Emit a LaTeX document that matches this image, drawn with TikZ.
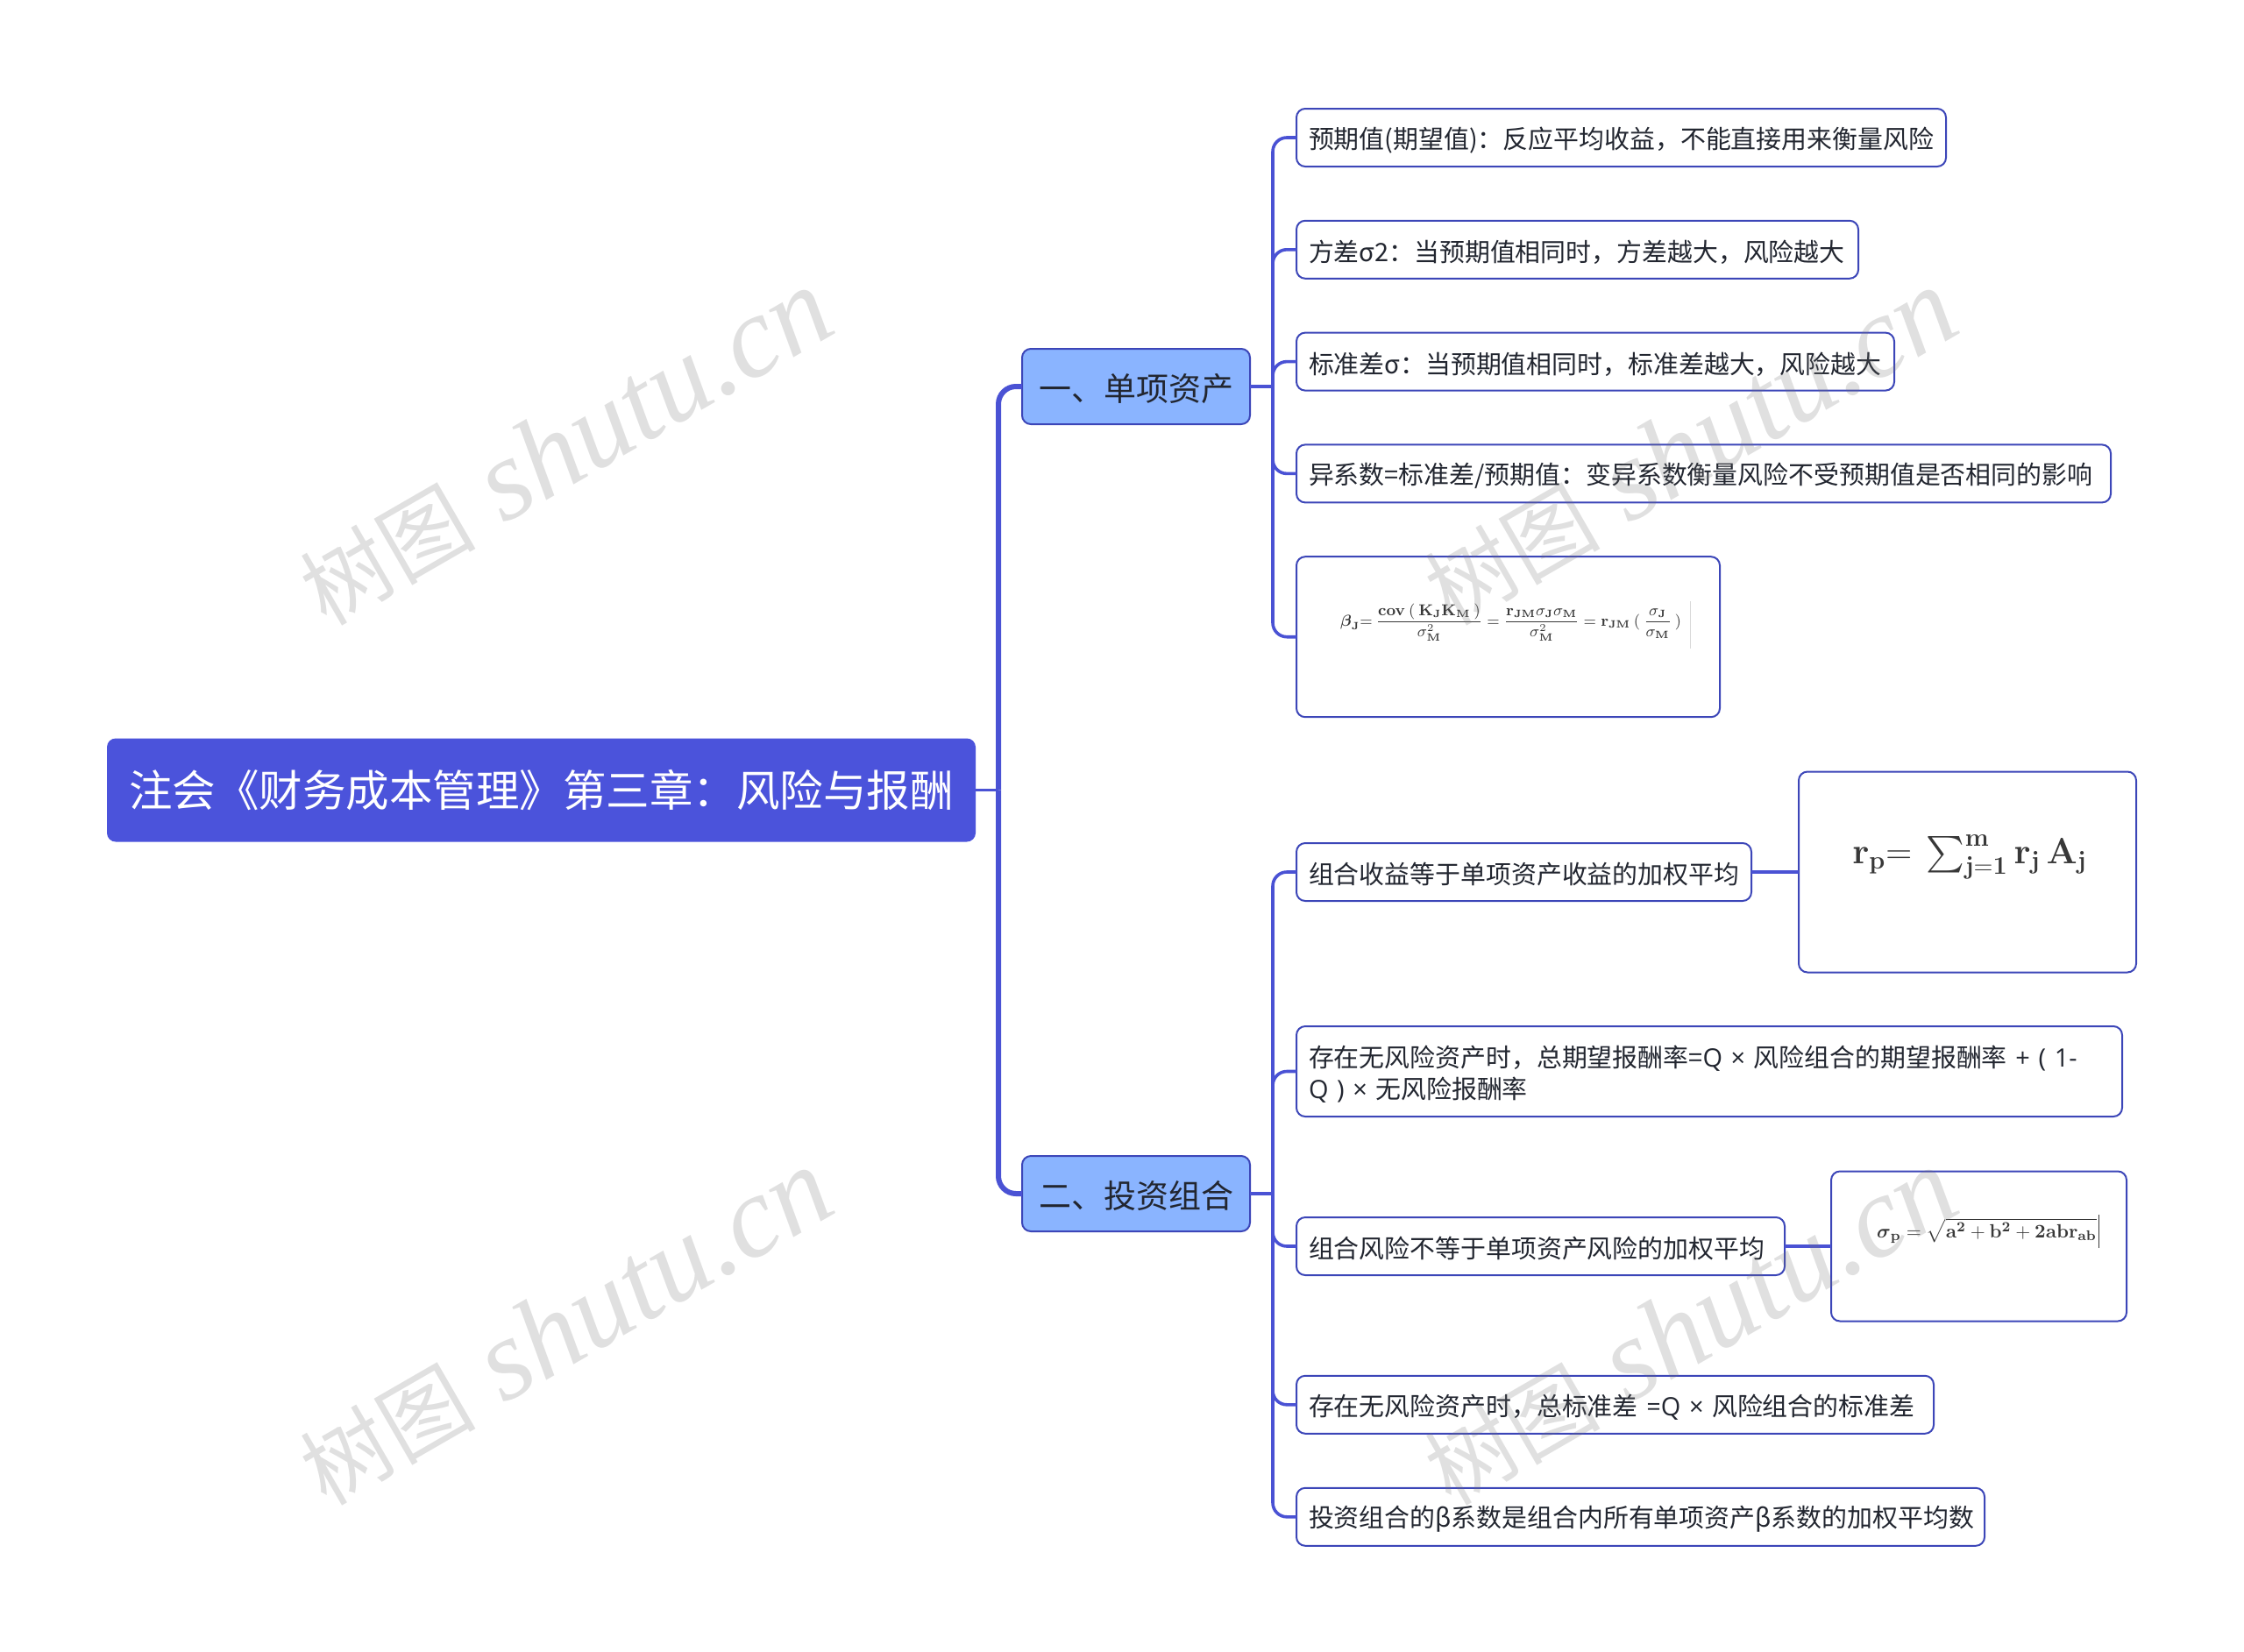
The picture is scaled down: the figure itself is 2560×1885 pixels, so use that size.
\documentclass[tikz,border=0pt]{standalone}
\usepackage{xcolor}
\usepackage{amsmath}
\usepackage[no-math]{fontspec}
\setmainfont{Noto Sans CJK SC}
\newfontfamily\markfont{Liberation Serif}
\newfontfamily\latinfont{Open Sans}
\usetikzlibrary{positioning, calc}
\definecolor{linkblue}{HTML}{4A52D4}
\definecolor{edgeblue}{HTML}{3C46B8}
\definecolor{rootblue}{HTML}{4B53DB}
\definecolor{branchblue}{HTML}{8AB4FF}
\definecolor{inkdark}{HTML}{222630}
\definecolor{formulagray}{HTML}{383838}
\tikzstyle{rootbox} = [rectangle, rounded corners=5pt, minimum width=495.5pt, minimum height=59pt, inner sep=0pt, outer sep=0pt, text=white, fill=rootblue, font=\fontsize{24.75}{30}\selectfont]
\tikzstyle{branchbox} = [rectangle, rounded corners=5pt, minimum width=130pt, minimum height=43pt, inner sep=0pt, outer sep=0pt, text=inkdark, draw=edgeblue, line width=1pt, fill=branchblue, font=\fontsize{18.5}{24}\selectfont, execute at begin node={\rule{0pt}{18.5pt}}]
\tikzstyle{leafbox} = [rectangle, rounded corners=5pt, minimum height=33pt, inner xsep=7pt, inner ysep=3pt, outer sep=0pt, align=left, text=inkdark, draw=edgeblue, line width=1pt, fill=white, font=\fontsize{14.45}{18}\selectfont, execute at begin node={\rule{0pt}{15pt}}]
\tikzstyle{formulabox} = [rectangle, rounded corners=5pt, inner sep=0pt, outer sep=0pt, draw=edgeblue, line width=1pt, fill=white]
\tikzstyle{formula} = [inner sep=0pt, text=formulagray]
\tikzstyle{trunk} = [draw=linkblue, line width=3pt, rounded corners=10pt]
\tikzstyle{twig} = [draw=linkblue, line width=1.8pt, rounded corners=8pt]
\tikzstyle{stub} = [draw=linkblue, line width=1.8pt]
\tikzstyle{watermark} = [rotate=30, inner sep=0pt, text=black!55, opacity=0.22, font=\markfont\fontsize{66}{72}\selectfont]
\newcommand{\markline}{{\normalfont\fontsize{50}{72}\selectfont 树图} {\itshape shutu.cn}}

\begin{document}
\begin{tikzpicture}[x=0.5pt,y=-0.5pt]
    \useasboundingbox (0,0) rectangle (2560,1885);
    % Root and branches
    \node[rootbox, anchor=west] (root) at (122,901.5) {注会《财务成本管理》第三章：风险与报酬};
    \node[branchbox, anchor=west] (asset) at (1166,441) {一、单项资产};
    \node[branchbox, below=417.5pt of asset] (group) {二、投资组合};
    \coordinate (hubroot) at ($(root.east)+(26,0)$);
    \coordinate (hubasset) at ($(asset.east)+(26,0)$);
    \coordinate (hubgroup) at ($(group.east)+(26,0)$);

    % Single asset
    \node[leafbox, anchor=north west, text width=356.5pt] (expect) at (1479,124) {预期值(期望值)：反应平均收益，不能直接用来衡量风险};
    \node[leafbox, below=30.9pt of expect.south west, anchor=north west, text width=306.5pt] (variance) {方差σ2：当预期值相同时，方差越大，风险越大};
    \node[leafbox, below=30.9pt of variance.south west, anchor=north west, text width=327pt] (deviation) {标准差σ：当预期值相同时，标准差越大，风险越大};
    \node[leafbox, below=30.9pt of deviation.south west, anchor=north west, text width=450.5pt] (coefficient) {异系数=标准差/预期值：变异系数衡量风险不受预期值是否相同的影响};
    \node[formulabox, below=30.9pt of coefficient.south west, anchor=north west, minimum width=241.5pt, minimum height=91.5pt] (betabox) {};
    \node[formula, font=\fontsize{8.8}{11}\selectfont] (beta) at (1729,713) {$\boldsymbol{\beta}_{\mathbf{J}}{=}\ \dfrac{\mathbf{cov}\ (\ \mathbf{K_JK_M}\ )}{\sigma_{\mathbf{M}}^{2}}=\dfrac{\mathbf{r_{JM}}\sigma_{\mathbf{J}}\sigma_{\mathbf{M}}}{\sigma_{\mathbf{M}}^{2}}=\mathbf{r_{JM}}\ (\ \dfrac{\sigma_{\mathbf{J}}}{\sigma_{\mathbf{M}}}\ )$\hspace{5pt}\textcolor{black!15}{\rule[-13pt]{0.4pt}{27pt}}};

    % Portfolio
    \node[leafbox, anchor=north west, text width=245.5pt] (yield) at (1479,962) {组合收益等于单项资产收益的加权平均};
    \node[formulabox, right=27pt of yield, minimum width=192.5pt, minimum height=114.5pt] (yieldbox) {};
    \node[formula, font=\fontsize{22}{26}\selectfont] (yieldtex) at (2247,978) {$\mathbf{r_p}{=}\ \textstyle\sum_{\mathbf{j=1}}^{\mathbf{m}}\mathbf{r_j}\,\mathbf{A_j}$};
    \node[leafbox, below=71.5pt of yield.south west, anchor=north west, text width=457pt, minimum height=51.5pt] (riskfree) {存在无风险资产时，总期望报酬率={\latinfont Q × }风险组合的期望报酬率{\latinfont\ + ( 1-}\\{\latinfont Q ) × }无风险报酬率};
    \node[leafbox, below=57.5pt of riskfree.south west, anchor=north west, text width=264.5pt] (risk) {组合风险不等于单项资产风险的加权平均};
    \node[formulabox, right=26.5pt of risk, minimum width=168.5pt, minimum height=85.5pt] (riskbox) {};
    \node[formula, font=\fontsize{11.2}{14}\selectfont] (risktex) at (2268,1405) {$\boldsymbol{\sigma}_{\mathbf{p}}=\sqrt{\mathbf{a^2+b^2+2abr_{ab}}}$\hspace{1pt}\textcolor{formulagray}{\rule[-6pt]{0.6pt}{19pt}}};
    \node[leafbox, below=57.4pt of risk.south west, anchor=north west, text width=349.5pt] (total) {存在无风险资产时，总标准差{\latinfont\ =Q × }风险组合的标准差};
    \node[leafbox, below=31pt of total.south west, anchor=north west, text width=378.5pt] (coeffbeta) {投资组合的β系数是组合内所有单项资产β系数的加权平均数};

    % Connections
    \draw[stub] (root.east) -- (hubroot);
    \draw[trunk] (hubroot) |- (asset.west);
    \draw[trunk] (hubroot) |- (group.west);
    \draw[stub] (asset.east) -- (hubasset);
    \draw[stub] (group.east) -- (hubgroup);
    \foreach \leaf in {expect, variance, deviation, coefficient, betabox} {
        \draw[twig] (hubasset) |- (\leaf.west);
    }
    \foreach \leaf in {yield, riskfree, risk, total, coeffbeta} {
        \draw[twig] (hubgroup) |- (\leaf.west);
    }
    \draw[stub] (yield) -- (yieldbox);
    \draw[stub] (risk) -- (riskbox);

    % Watermarks
    \node[watermark] (mark1) at (645,510) {\markline};
    \node[watermark] (mark2) at (1928,510) {\markline};
    \node[watermark] (mark3) at (645,1514) {\markline};
    \node[watermark] (mark4) at (1928,1514) {\markline};
\end{tikzpicture}
\end{document}
